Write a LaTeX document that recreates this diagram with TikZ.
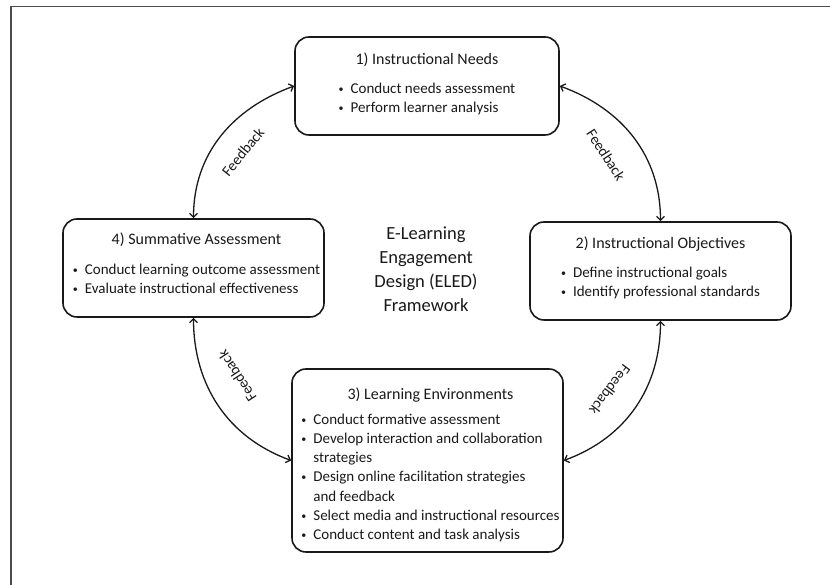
\documentclass[tikz,border=0pt]{standalone}
\usepackage{fontspec}
\setmainfont{Carlito}
\usetikzlibrary{arrows.meta,calc,positioning}

\definecolor{framegray}{gray}{0.3}
\definecolor{ink}{gray}{0.1}

\newcommand{\stagetitle}[1]{\multicolumn{2}{c}{\fontsize{16}{19}\selectfont #1}}
\newcommand{\bul}{\raisebox{1.2pt}{\fontsize{10}{10}\selectfont\textbullet}}

\tikzset{
  stage/.style={draw=ink, line width=1.6pt, rounded corners=14pt, inner sep=0pt},
  stagetext/.style={text=ink, inner sep=0pt, anchor=base,
    font=\fontsize{15}{19.2}\selectfont},
  centretext/.style={text=ink, inner sep=0pt, anchor=base,
    font=\fontsize{18.5}{24}\selectfont},
  feedbackarc/.style={draw=ink, line width=1.3pt,
    {Straight Barb[length=4pt,width=8pt]}-{Straight Barb[length=4pt,width=8pt]}},
  feedbacklabel/.style={text=ink, inner sep=0pt, font=\fontsize{15}{17}\selectfont},
}

\begin{document}
\begin{tikzpicture}[x=1pt,y=1pt]
  \useasboundingbox (0,0) rectangle (830,585);
  % frame
  \draw [framegray, line width=1.5pt] (11,0) -- (11,578.5) -- (830,578.5);
  % stage boxes
  \node [stage, minimum width=264, minimum height=98] (needs) at (427,499) {};
  \node [stage, minimum width=261, minimum height=98] (objectives) at (660.5,314) {};
  \node [stage, minimum width=271, minimum height=183] (environments) at (427.5,124.5) {};
  \node [stage, minimum width=261, minimum height=98] (summative) at (193.5,317) {};
  % stage texts
  \node [stagetext] (needs-text) at ($(needs.north)+(0,-28)$) {%
    \begin{tabular}[t]{@{}l@{\hspace{7pt}}l@{}}
      \stagetitle{1) Instructional Needs}\\[10pt]
      \bul & Conduct needs assessment\\
      \bul & Perform learner analysis
    \end{tabular}};
  \node [stagetext] (objectives-text) at ($(objectives.north)+(0,-27)$) {%
    \begin{tabular}[t]{@{}l@{\hspace{7pt}}l@{}}
      \stagetitle{2) Instructional Objectives}\\[10pt]
      \bul & Define instructional goals\\
      \bul & Identify professional standards
    \end{tabular}};
  \node [stagetext] (environments-text) at ($(environments.north)+(3,-31)$) {%
    \begin{tabular}[t]{@{}l@{\hspace{7pt}}l@{}}
      \stagetitle{3) Learning Environments}\\[6pt]
      \bul & Conduct formative assessment\\
      \bul & Develop interaction and collaboration\\
           & strategies\\
      \bul & Design online facilitation strategies\\
           & and feedback\\
      \bul & Select media and instructional resources\\
      \bul & Conduct content and task analysis
    \end{tabular}};
  \node [stagetext] (summative-text) at ($(summative.north)+(3,-26)$) {%
    \begin{tabular}[t]{@{}l@{\hspace{7pt}}l@{}}
      \stagetitle{4) Summative Assessment}\\[11pt]
      \bul & Conduct learning outcome assessment\\
      \bul & Evaluate instructional effectiveness
    \end{tabular}};
  % framework name
  \node [centretext] (eled) at (426,345) {%
    \begin{tabular}[t]{@{}c@{}}
      E-Learning\\ Engagement\\ Design (ELED)\\ Framework
    \end{tabular}};
  % feedback loops
  \draw [feedbackarc] (needs.west) to [out=200,in=90] (summative.north);
  \draw [feedbackarc] (needs.east) to [out=-20,in=90] (objectives.north);
  \draw [feedbackarc] (objectives.south) to [out=-90,in=20] (environments.east);
  \draw [feedbackarc] (summative.south) to [out=-90,in=160] (environments.west);
  \node [feedbacklabel, rotate=51] (fb-upper-left) at (243,433) {Feedback};
  \node [feedbacklabel, rotate=-57] (fb-upper-right) at (606,430) {Feedback};
  \node [feedbacklabel, rotate=123] (fb-lower-left) at (237,209) {Feedback};
  \node [feedbacklabel, rotate=-127] (fb-lower-right) at (610,195) {Feedback};
\end{tikzpicture}
\end{document}
